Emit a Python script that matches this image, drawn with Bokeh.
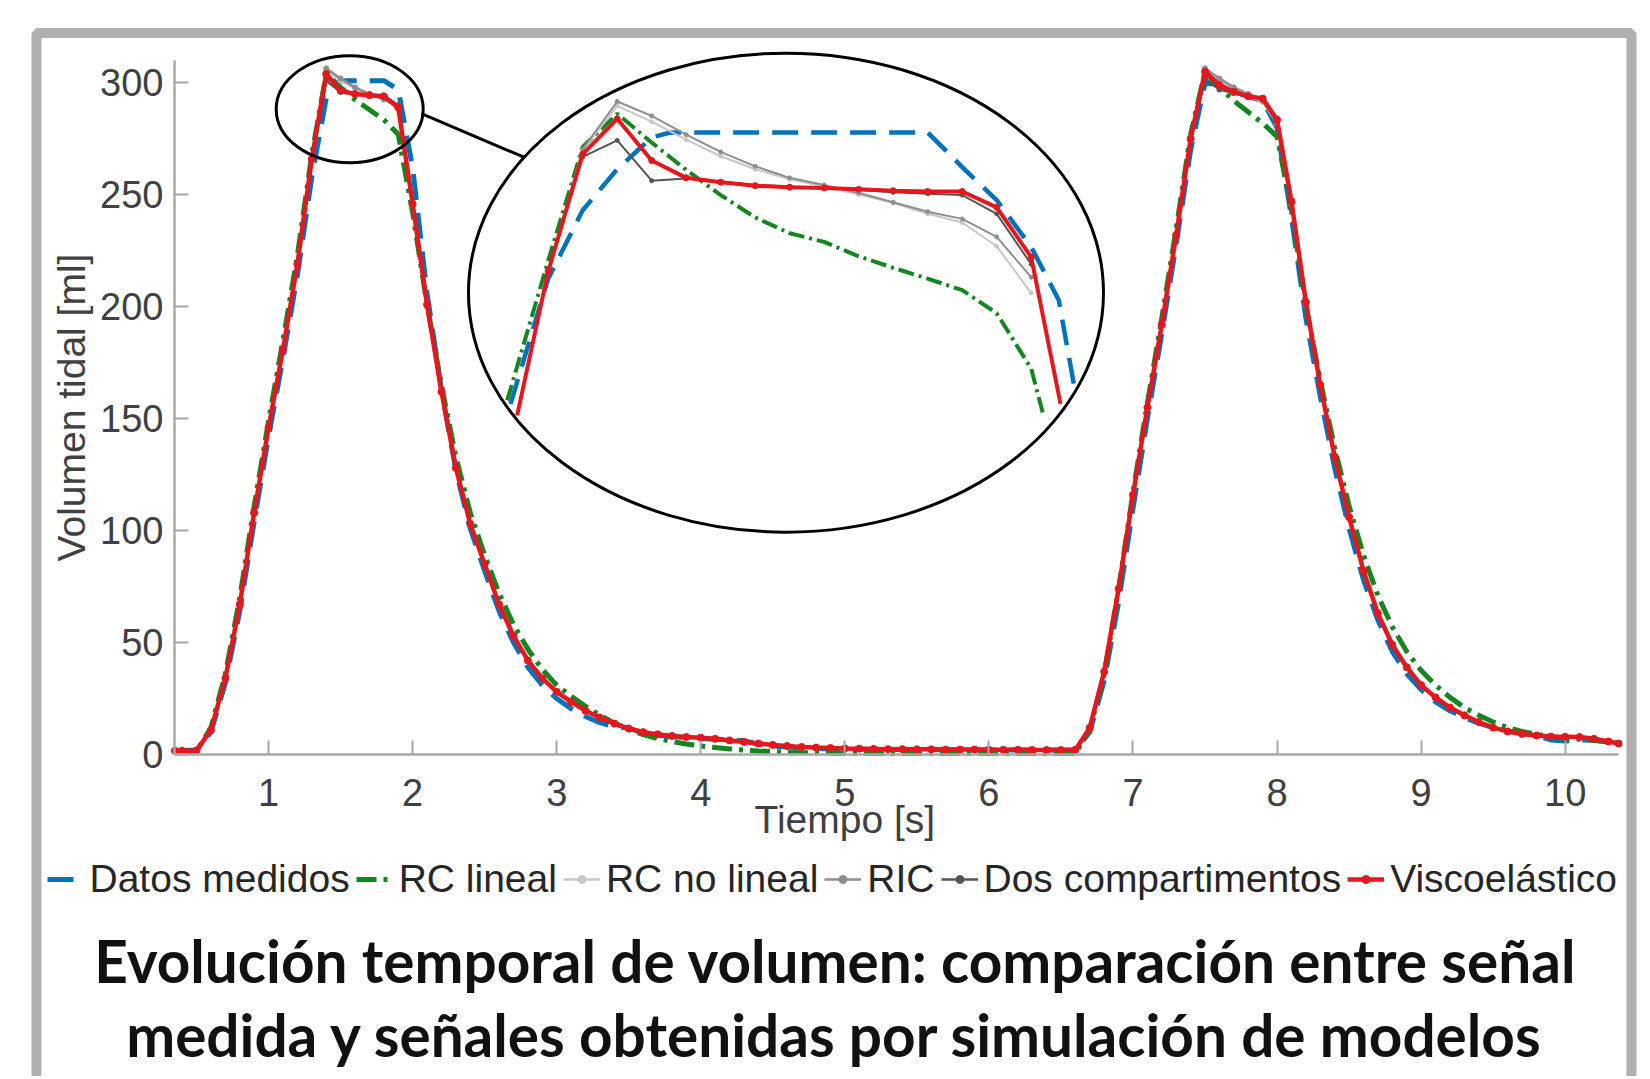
from bokeh.plotting import figure
from bokeh.models import (Range1d, FixedTicker, Legend, LegendItem, Label, BoxAnnotation, LinearAxis)
from bokeh.embed import file_html
from bokeh.resources import INLINE

# ---------------- data ----------------
t = [0.35, 0.4, 0.5, 0.6, 0.7, 0.8, 0.9, 1.0, 1.1, 1.2,
     1.3, 1.4, 1.5, 1.6, 1.7, 1.8, 1.9, 2.0, 2.1, 2.2,
     2.3, 2.4, 2.5, 2.6, 2.7, 2.8, 2.9, 3.0, 3.1, 3.2,
     3.3, 3.4, 3.5, 3.6, 3.7, 3.8, 3.9, 4.0, 4.1, 4.2,
     4.3, 4.4, 4.5, 4.6, 4.7, 4.8, 4.9, 5.0, 5.1, 5.2,
     5.3, 5.4, 5.5, 5.6, 5.7, 5.8, 5.9, 6.0, 6.1, 6.2,
     6.3, 6.4, 6.5, 6.6, 6.7, 6.8, 6.9, 7.0, 7.1, 7.2,
     7.3, 7.4, 7.5, 7.6, 7.7, 7.8, 7.9, 8.0, 8.1, 8.2,
     8.3, 8.4, 8.5, 8.6, 8.7, 8.8, 8.9, 9.0, 9.1, 9.2,
     9.3, 9.4, 9.5, 9.6, 9.7, 9.8, 9.9, 10.0, 10.1, 10.2,
     10.3, 10.37]

datos_medidos = [1.8, 1.8, 2.0, 10, 32, 64, 104, 142, 177, 214,
                 258, 293, 301, 301, 301, 301, 297, 262, 206, 163,
                 127, 101, 82, 64, 50, 39, 31, 25, 20.5, 17,
                 14.2, 12.4, 11.8, 9.6, 8.6, 8, 7.6, 7.2, 6.8, 6.4,
                 6.2, 4.5, 3.8, 3.3, 3.0, 2.7, 2.5, 2.4, 2.3, 2.3,
                 2.2, 2.2, 2.2, 2.1, 2.1, 2.1, 2.0, 2.0, 2.0, 2.0,
                 2.0, 2.0, 2.0, 2.0, 10, 33, 68, 110, 150, 188,
                 228, 270, 300, 299, 296, 294, 292, 280, 240, 195,
                 160, 128, 101, 78, 60, 46, 36, 29, 23.5, 19.5,
                 16.5, 14, 12, 10.5, 9.5, 8.5, 6.5, 6, 6.5, 6.5,
                 5.5, 4.6]

rc_lineal = [1.2, 1.2, 1.5, 12, 36, 70, 111, 149, 185, 223,
             268, 304, 298, 292.5, 288, 283.5, 277, 242, 201, 165,
             133, 108, 89, 72, 58, 47, 38, 31, 26, 21.5,
             17.5, 14, 11.2, 8.9, 7.2, 5.8, 4.7, 3.8, 3.1, 2.5,
             2.0, 1.6, 1.3, 1.0, 0.8, 0.7, 0.6, 0.5, 0.5, 0.4,
             0.4, 0.4, 0.4, 0.4, 0.4, 0.4, 0.4, 0.4, 0.4, 0.4,
             0.4, 0.4, 0.4, 0.5, 11, 36, 74, 117, 157, 195,
             235, 277, 305, 298, 292, 287, 282, 276, 243, 201,
             167, 137, 111, 89, 71, 57, 46, 37.5, 31, 25.5,
             21, 17.5, 14.5, 12, 10.3, 9, 8, 7.3, 6.8, 6.3,
             5.6, 5.2]

rc_no_lineal = [1.7, 1.7, 1.8, 11, 34, 67, 108, 146, 181, 219,
                266, 306, 301, 297.5, 295, 292.5, 289.5, 245, 200, 162,
                128, 103, 85, 67, 53, 42, 34, 28, 23.5, 19.5,
                16.5, 13.8, 11.6, 10, 9, 8.3, 7.8, 7.4, 6.9, 6.2,
                5.5, 4.8, 4.2, 3.7, 3.3, 3.0, 2.8, 2.6, 2.5, 2.4,
                2.3, 2.3, 2.2, 2.2, 2.1, 2.1, 2.1, 2.0, 2.0, 2.0,
                1.9, 1.9, 1.9, 2.0, 12, 37, 74, 116, 155, 192,
                232, 276, 306, 301, 297, 294, 291.5, 282, 246, 201,
                165, 133, 106, 82, 63, 49, 39, 31, 25.5, 21,
                17.5, 14.5, 12, 10.3, 9.2, 8.5, 8, 7.9, 7.8, 7,
                5.8, 4.9]

ric = [1.7, 1.7, 1.8, 11, 34, 67, 108, 146, 181, 219,
       266, 306.5, 302, 298, 295, 292.6, 290, 245, 200, 162,
       128, 103, 85, 67, 53, 42, 34, 28, 23.5, 19.5,
       16.5, 13.8, 11.6, 10, 9, 8.3, 7.8, 7.4, 6.9, 6.2,
       5.5, 4.8, 4.2, 3.7, 3.3, 3.0, 2.8, 2.6, 2.5, 2.4,
       2.3, 2.3, 2.2, 2.2, 2.1, 2.1, 2.1, 2.0, 2.0, 2.0,
       1.9, 1.9, 1.9, 2.0, 12, 37, 74, 116, 155, 192,
       232, 276, 306.5, 302, 298, 295, 292, 282, 246, 201,
       165, 133, 106, 82, 63, 49, 39, 31, 25.5, 21,
       17.5, 14.5, 12, 10.3, 9.2, 8.5, 8, 7.9, 7.8, 7,
       5.8, 4.9]

dos_compartimentos = [1.7, 1.7, 1.8, 11, 34, 67, 108, 146, 181, 219,
                      266, 301, 296, 295, 294.7, 294.2, 290, 246, 201, 162,
                      128, 103, 85, 67, 53, 42, 34, 28, 23.5, 19.5,
                      16.5, 13.8, 11.6, 10, 9, 8.3, 7.8, 7.5, 7, 6.3,
                      5.6, 4.9, 4.3, 3.8, 3.4, 3.1, 2.9, 2.7, 2.6, 2.5,
                      2.4, 2.4, 2.3, 2.3, 2.2, 2.2, 2.2, 2.1, 2.1, 2.1,
                      2.0, 2.0, 2.0, 2.1, 12, 37, 74, 116, 155, 192,
                      232, 275, 302, 297, 295.5, 294, 293, 283.5, 247, 202,
                      165, 133, 106, 82, 63, 49, 39, 31, 25.5, 21,
                      17.5, 14.5, 12, 10.3, 9.2, 8.5, 8, 7.9, 7.8, 7,
                      5.8, 4.9]

viscoelastico = [1.7, 1.7, 1.8, 11, 34, 67, 108, 146, 181, 219,
                 266, 304, 296.5, 295, 294.5, 294, 289, 246, 201, 162,
                 128, 103, 85, 67, 53, 42, 34, 28, 23.5, 19.5,
                 16.5, 13.8, 11.6, 10, 9, 8.3, 7.8, 7.5, 7, 6.3,
                 5.6, 4.9, 4.3, 3.8, 3.4, 3.1, 2.9, 2.7, 2.6, 2.5,
                 2.4, 2.4, 2.3, 2.3, 2.2, 2.2, 2.2, 2.1, 2.1, 2.1,
                 2.0, 2.0, 2.0, 2.1, 12, 37, 74, 116, 155, 192,
                 232, 275, 305, 299, 296, 294, 293, 283.5, 247, 202,
                 165, 133, 106, 82, 63, 49, 39, 31, 25.5, 21,
                 17.5, 14.5, 12, 10.3, 9.2, 8.5, 8, 7.9, 7.8, 7,
                 5.8, 4.9]

# zoomed inset (values read inside the big circle)
zoom_t_medidos = [1.2454, 1.30, 1.35, 1.40, 1.45, 1.477, 1.85, 1.90, 1.95, 2.00, 2.04, 2.0617]
zoom_medidos = [264.6, 282.0, 291.5, 297.2, 301.6, 302.3, 302.3, 297.5, 292.9, 286.4, 279.0, 267.4]

zoom_t_rcl = [1.2406, 1.30, 1.35, 1.40, 1.45, 1.50, 1.55, 1.60, 1.65, 1.70, 1.75, 1.80,
              1.85, 1.90, 1.95, 2.00, 2.0183]
zoom_rcl = [265.1, 284.5, 300.3, 304.9, 300.9, 297.1, 293.6, 290.5, 288.3, 287.1, 285.1, 283.5,
            282.0, 280.4, 277.2, 269.5, 262.8]

zoom_t_grey = [1.30, 1.35, 1.40, 1.45, 1.50, 1.55, 1.60, 1.65, 1.70, 1.75, 1.80, 1.85, 1.90, 1.95, 2.00]
zoom_rcnl = [283.0, 299.8, 306.0, 303.8, 301.3, 299.0, 297.2, 295.8, 294.8, 293.7, 292.5, 291.0, 289.8, 286.5, 280.0]
zoom_ric = [283.0, 300.0, 306.6, 304.6, 302.0, 299.6, 297.6, 296.0, 295.0, 293.9, 292.6, 291.3, 290.3, 287.8, 282.2]
zoom_dos = [283.0, 298.9, 301.2, 295.6, 295.9, 295.5, 295.0, 294.8, 294.6, 294.3, 294.0, 293.8, 293.6, 291.0, 284.0]

zoom_t_visco = [1.255, 1.30, 1.35, 1.40, 1.45, 1.50, 1.55, 1.60, 1.65, 1.70, 1.75, 1.80,
                1.85, 1.90, 1.95, 2.00, 2.0425]
zoom_visco = [263.0, 283.0, 299.3, 304.2, 298.4, 296.0, 295.4, 294.9, 294.7, 294.6, 294.4, 294.2,
              294.1, 294.1, 291.9, 285.0, 264.6]

x_ticks = [1, 2, 3, 4, 5, 6, 7, 8, 9, 10]
y_ticks = [0, 50, 100, 150, 200, 250, 300]
x_limits = (0.347, 10.37)
y_limits = (0, 310)

# ---------------- styles ----------------
C_BLUE = "#0072BD"
C_GREEN = "#14861f"
C_LGREY = "#c6c6c6"
C_MGREY = "#8e8e8e"
C_DGREY = "#555555"
C_RED = "#e5161c"
AX = "#a8a8a8"
TXT = "#404040"
FONT = "Liberation Sans"

# the frame covers the whole canvas; axes are placed at fixed data locations
p = figure(width=1646, height=1076, output_backend="svg", toolbar_location=None,
           x_range=Range1d(-0.86075, 10.5643), y_range=Range1d(-143.83, 336.80),
           x_axis_location=None, y_axis_location=None, min_border=0)
p.extra_x_ranges = {"zx": Range1d(0.50623, 2.89174)}
p.extra_y_ranges = {"zy": Range1d(171.186, 320.631)}

p.outline_line_color = None
p.grid.visible = False
p.background_fill_color = "white"
p.border_fill_color = "white"

xaxis = LinearAxis(fixed_location=y_limits[0], bounds=x_limits, ticker=FixedTicker(ticks=x_ticks))
yaxis = LinearAxis(fixed_location=x_limits[0], bounds=y_limits, ticker=FixedTicker(ticks=y_ticks))
for ax in (xaxis, yaxis):
    ax.axis_line_color = AX
    ax.axis_line_width = 2.5
    ax.major_tick_line_color = AX
    ax.major_tick_line_width = 2
    ax.major_tick_in = 14
    ax.major_tick_out = 0
    ax.minor_tick_line_color = None
    ax.major_label_text_font = FONT
    ax.major_label_text_font_size = "38px"
    ax.major_label_text_color = TXT
xaxis.major_label_standoff = 24
yaxis.major_label_standoff = 11
yaxis.axis_label = "Volumen tidal [ml]"
yaxis.axis_label_text_font = FONT
yaxis.axis_label_text_font_size = "39px"
yaxis.axis_label_text_font_style = "normal"
yaxis.axis_label_text_color = TXT
yaxis.axis_label_standoff = 4
p.add_layout(xaxis, "below")
p.add_layout(yaxis, "left")

# ---------------- main curves ----------------
r_med = p.line(t, datos_medidos, line_color=C_BLUE, line_width=5, line_dash="26 13")
r_rcl = p.line(t, rc_lineal, line_color=C_GREEN, line_width=5, line_dash="20 7 4 7")
r_rcnl = p.line(t, rc_no_lineal, line_color=C_LGREY, line_width=2.5)
s_rcnl = p.scatter(t, rc_no_lineal, marker="circle", size=5, color=C_LGREY)
r_ric = p.line(t, ric, line_color=C_MGREY, line_width=2.5)
s_ric = p.scatter(t, ric, marker="circle", size=5, color=C_MGREY)
r_dos = p.line(t, dos_compartimentos, line_color=C_DGREY, line_width=2.5)
s_dos = p.scatter(t, dos_compartimentos, marker="circle", size=5, color=C_DGREY)
r_vis = p.line(t, viscoelastico, line_color=C_RED, line_width=4.5)
s_vis = p.scatter(t, viscoelastico, marker="circle", size=7, color=C_RED)

# ---------------- magnifier ----------------
p.ellipse(x=[1.5631], y=[288.25], width=[147], height=[107], width_units="screen",
          height_units="screen", fill_color=None, line_color="black", line_width=3)
p.line([2.061, 2.776], [286.3, 266.7], line_color="black", line_width=3)
p.ellipse(x=[1.6446], y=[280.05], width=[635], height=[479], width_units="screen",
          height_units="screen", fill_color="white", line_color="black", line_width=3,
          x_range_name="zx", y_range_name="zy")

kw = dict(x_range_name="zx", y_range_name="zy")
p.line(zoom_t_medidos, zoom_medidos, line_color=C_BLUE, line_width=4.5, line_dash="26 13", **kw)
p.line(zoom_t_rcl, zoom_rcl, line_color=C_GREEN, line_width=4, line_dash="16 5 3 5", **kw)
p.line(zoom_t_grey, zoom_rcnl, line_color=C_LGREY, line_width=2, **kw)
p.scatter(zoom_t_grey, zoom_rcnl, marker="circle", size=4, color=C_LGREY, **kw)
p.line(zoom_t_grey, zoom_ric, line_color=C_MGREY, line_width=2, **kw)
p.scatter(zoom_t_grey, zoom_ric, marker="circle", size=4, color=C_MGREY, **kw)
p.line(zoom_t_grey, zoom_dos, line_color=C_DGREY, line_width=2, **kw)
p.scatter(zoom_t_grey, zoom_dos, marker="circle", size=4, color=C_DGREY, **kw)
p.line(zoom_t_visco, zoom_visco, line_color=C_RED, line_width=4, **kw)
p.scatter(zoom_t_visco[1:-1], zoom_visco[1:-1], marker="circle", size=6, color=C_RED, **kw)

# ---------------- legend ----------------
legend = Legend(items=[
    LegendItem(label="Datos medidos", renderers=[r_med]),
    LegendItem(label="RC lineal", renderers=[r_rcl]),
    LegendItem(label="RC no lineal", renderers=[r_rcnl, s_rcnl]),
    LegendItem(label="RIC", renderers=[r_ric, s_ric]),
    LegendItem(label="Dos compartimentos", renderers=[r_dos, s_dos]),
    LegendItem(label="Viscoelástico", renderers=[r_vis, s_vis]),
], orientation="horizontal", location=(46.5, 175), glyph_width=37, glyph_height=20,
   label_standoff=6, spacing=6, padding=0, margin=0, border_line_color=None,
   background_fill_alpha=0, label_text_font=FONT, label_text_font_size="39px",
   label_text_color="#262626")
p.add_layout(legend)

# ---------------- texts ----------------
p.add_layout(Label(x=5.0, y=-29.0, text="Tiempo [s]", text_align="center",
                   text_baseline="alphabetic", text_font=FONT,
                   text_font_size="39px", text_color=TXT))
p.add_layout(Label(x=4.935, y=-91.9,
                   text="Evolución temporal de volumen: comparación entre señal",
                   text_align="center", text_baseline="alphabetic", text_font="Lato",
                   text_font_style="bold", text_font_size="58.5px", text_color="#111111"))
p.add_layout(Label(x=4.935, y=-124.7,
                   text="medida y señales obtenidas por simulación de modelos",
                   text_align="center", text_baseline="alphabetic", text_font="Lato",
                   text_font_style="bold", text_font_size="58.5px", text_color="#111111"))

# gray figure frame
p.add_layout(BoxAnnotation(left=-0.611, right=10.46, top=322.3, bottom=-250,
                           fill_color=None, fill_alpha=0, line_color="#b0b0b0",
                           line_alpha=1.0, line_width=10))

open("out.html", "w").write(file_html(p, INLINE))
